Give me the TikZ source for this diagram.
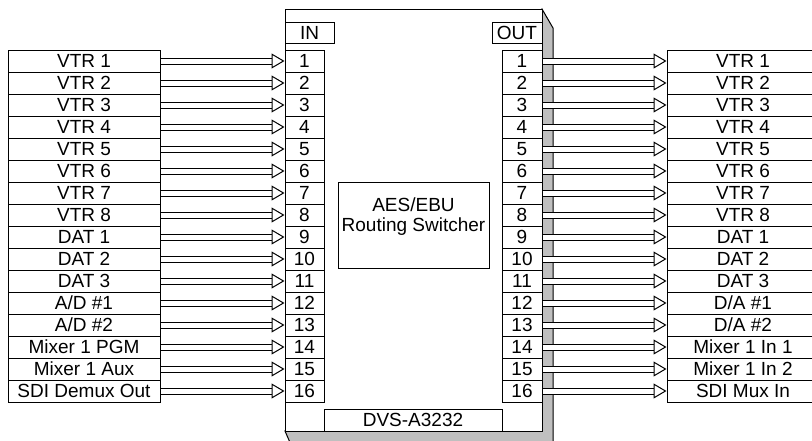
\documentclass[tikz,border=0pt]{standalone}
\usepackage{fontspec}
\setmainfont{Liberation Sans}
\usetikzlibrary{arrows.meta, positioning}

\begin{document}
\begin{tikzpicture}[
  x=1pt, y=-1pt,
  font=\fontsize{19}{20}\selectfont,
  cell/.style={draw, line width=1pt, inner sep=0pt, minimum height=22pt, text height=13.6pt, text depth=0pt},
  lab/.style={cell, minimum width=152pt},
  sig/.style={draw, line width=1pt, double, double distance=5pt,
    -{Triangle[open, length=13pt, width=15pt, line width=1pt]}}
  ]
  \useasboundingbox (0,0) rectangle (812,440);
  \clip (0,0) rectangle (812,440);
  % Router frame
  \filldraw[fill=black!25, line width=1pt] (542,9) -- (553,28) -- (553,470) -- (302,470) -- (285,431) -- cycle;
  \draw[fill=white, line width=1pt] (285,9) rectangle (542,431);
  \node[cell, minimum width=49pt, minimum height=21pt] (inlab) at (309.5,32.5) {IN};
  \node[cell, minimum width=50pt, minimum height=21pt] (outlab) at (517,32.5) {OUT};
  \node[cell, minimum width=151pt, minimum height=86pt, align=center] (core) at (413.5,225) {AES/EBU\\Routing Switcher};
  \node[cell, minimum width=178pt] (model) at (413,420) {DVS-A3232};
  % Sources and destinations
  \foreach \src/\dst [count=\i] in {VTR 1/VTR 1, VTR 2/VTR 2, VTR 3/VTR 3, VTR 4/VTR 4,
      VTR 5/VTR 5, VTR 6/VTR 6, VTR 7/VTR 7, VTR 8/VTR 8,
      DAT 1/DAT 1, DAT 2/DAT 2, DAT 3/DAT 3, {A/D \#1}/{D/A \#1},
      {A/D \#2}/{D/A \#2}, Mixer 1 PGM/Mixer 1 In 1, Mixer 1 Aux/Mixer 1 In 2, SDI Demux Out/SDI Mux In} {
    \pgfmathsetmacro{\y}{61+22*(\i-1)}
    \node[lab] (src\i) at (84,\y) {\src};
    \node[cell, minimum width=39pt] (in\i) at (304.5,\y) {\i};
    \node[cell, minimum width=40pt] (out\i) at (522,\y) {\i};
    \node[lab] (dst\i) at (743,\y) {\dst};
    \draw[sig] (src\i.east) -- (in\i.west);
    \draw[sig] (out\i.east) -- (dst\i.west);
  }
\end{tikzpicture}
\end{document}
